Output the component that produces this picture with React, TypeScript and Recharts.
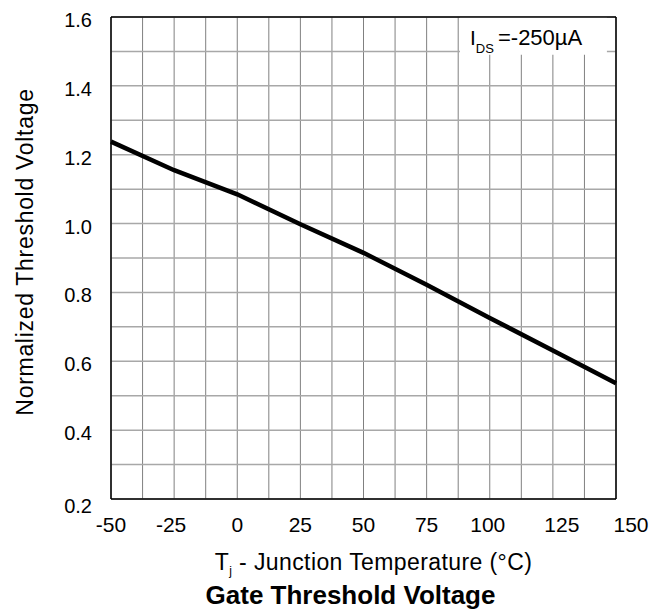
import { CartesianGrid, Label, Line, LineChart, ReferenceArea, ReferenceLine, XAxis, YAxis } from "recharts";

const temps = [-50, -25, 0, 25, 50, 75, 100, 125, 150];
const vth = [1.238, 1.155, 1.085, 0.998, 0.915, 0.822, 0.726, 0.631, 0.536];
const xTicks = [-50, -37.5, -25, -12.5, 0, 12.5, 25, 37.5, 50, 62.5, 75, 87.5, 100, 112.5, 125, 137.5, 150];
const yTicks = [0.2, 0.3, 0.4, 0.5, 0.6, 0.7, 0.8, 0.9, 1.0, 1.1, 1.2, 1.3, 1.4, 1.5, 1.6];

const data = temps.map((t, i) => ({ t, v: vth[i] }));

const FONT = "'Liberation Sans', Arial, sans-serif";

// the original datasheet has its last few x labels drifting right
const xNudge: Record<number, number> = { [-25]: -3, 100: -2, 125: 9, 150: 15 };

function XTick({ x, y, payload }: any) {
  const v = payload.value;
  if (v % 25 !== 0) return null;
  return (
    <text x={x + (xNudge[v] || 0)} y={y + 33} textAnchor="middle" fontSize={21} fontFamily={FONT} fill="#000">
      {v}
    </text>
  );
}

function YTick({ x, y, payload }: any) {
  const v = payload.value;
  const k = Math.round(v * 10);
  if (k % 2 !== 0) return null;
  return (
    <text x={x - 19} y={y + (k === 2 ? 14 : 10)} textAnchor="end" fontSize={20} fontFamily={FONT} fill="#000">
      {v.toFixed(1)}
    </text>
  );
}

function XTitles({ viewBox }: any) {
  const cx = viewBox.x + viewBox.width / 2;
  return (
    <g fontFamily={FONT} fill="#000">
      <text x={cx + 10} y={570} textAnchor="middle" fontSize={23} letterSpacing={0.4}>
        T<tspan fontSize={12} dy={5}>j</tspan>
        <tspan dy={-5}> - Junction Temperature (°C)</tspan>
      </text>
      <text x={cx - 13} y={604} textAnchor="middle" fontSize={26} fontWeight="bold">
        Gate Threshold Voltage
      </text>
    </g>
  );
}

function YTitle({ viewBox }: any) {
  const cy = viewBox.y + viewBox.height / 2 - 6;
  return (
    <text x={33} y={cy} transform={`rotate(-90 33 ${cy})`} textAnchor="middle" fontSize={23} letterSpacing={0.7} fontFamily={FONT} fill="#000">
      Normalized Threshold Voltage
    </text>
  );
}

function Annotation({ viewBox }: any) {
  const { x, y } = viewBox;
  return (
    <text x={x + 10} y={y + 28} fontSize={21} fontFamily={FONT} fill="#000">
      I<tspan fontSize={13} dy={8}>DS</tspan>
      <tspan x={x + 38} dy={-8} fontSize={22}>=-250µA</tspan>
    </text>
  );
}

export default function App() {
  return (
    <div style={{ position: "absolute", left: 0, top: 0, width: 665, height: 613, background: "#fff" }}>
      <LineChart width={665} height={613} data={data} margin={{ top: 17, right: 49, left: 0, bottom: 0 }}>
        <CartesianGrid horizontal={false} stroke="#808080" strokeWidth={1} />
        <CartesianGrid vertical={false} stroke="#a8a8a8" strokeWidth={1.5} />
        <XAxis
          dataKey="t"
          type="number"
          domain={[-50, 150]}
          ticks={xTicks}
          interval={0}
          height={114}
          tickSize={0}
          tickMargin={0}
          tickLine={false}
          axisLine={{ stroke: "#000", strokeWidth: 1.5 }}
          tick={<XTick />}
        >
          <Label content={<XTitles />} />
        </XAxis>
        <YAxis
          type="number"
          domain={[0.2, 1.6]}
          ticks={yTicks}
          interval={0}
          width={111}
          tickSize={0}
          tickMargin={0}
          tickLine={false}
          axisLine={{ stroke: "#000", strokeWidth: 1.5 }}
          tick={<YTick />}
        >
          <Label content={<YTitle />} />
        </YAxis>
        <ReferenceArea x1={88.2} x2={146.4} y1={1.49} y2={1.6} fill="#fff" fillOpacity={1} stroke="none">
          <Label content={<Annotation />} />
        </ReferenceArea>
        <ReferenceLine x={150} stroke="#000" strokeWidth={1.5} />
        <ReferenceLine y={1.6} stroke="#000" strokeWidth={1.5} />
        <Line type="linear" dataKey="v" stroke="#000" strokeWidth={4.5} dot={false} isAnimationActive={false} />
      </LineChart>
    </div>
  );
}
